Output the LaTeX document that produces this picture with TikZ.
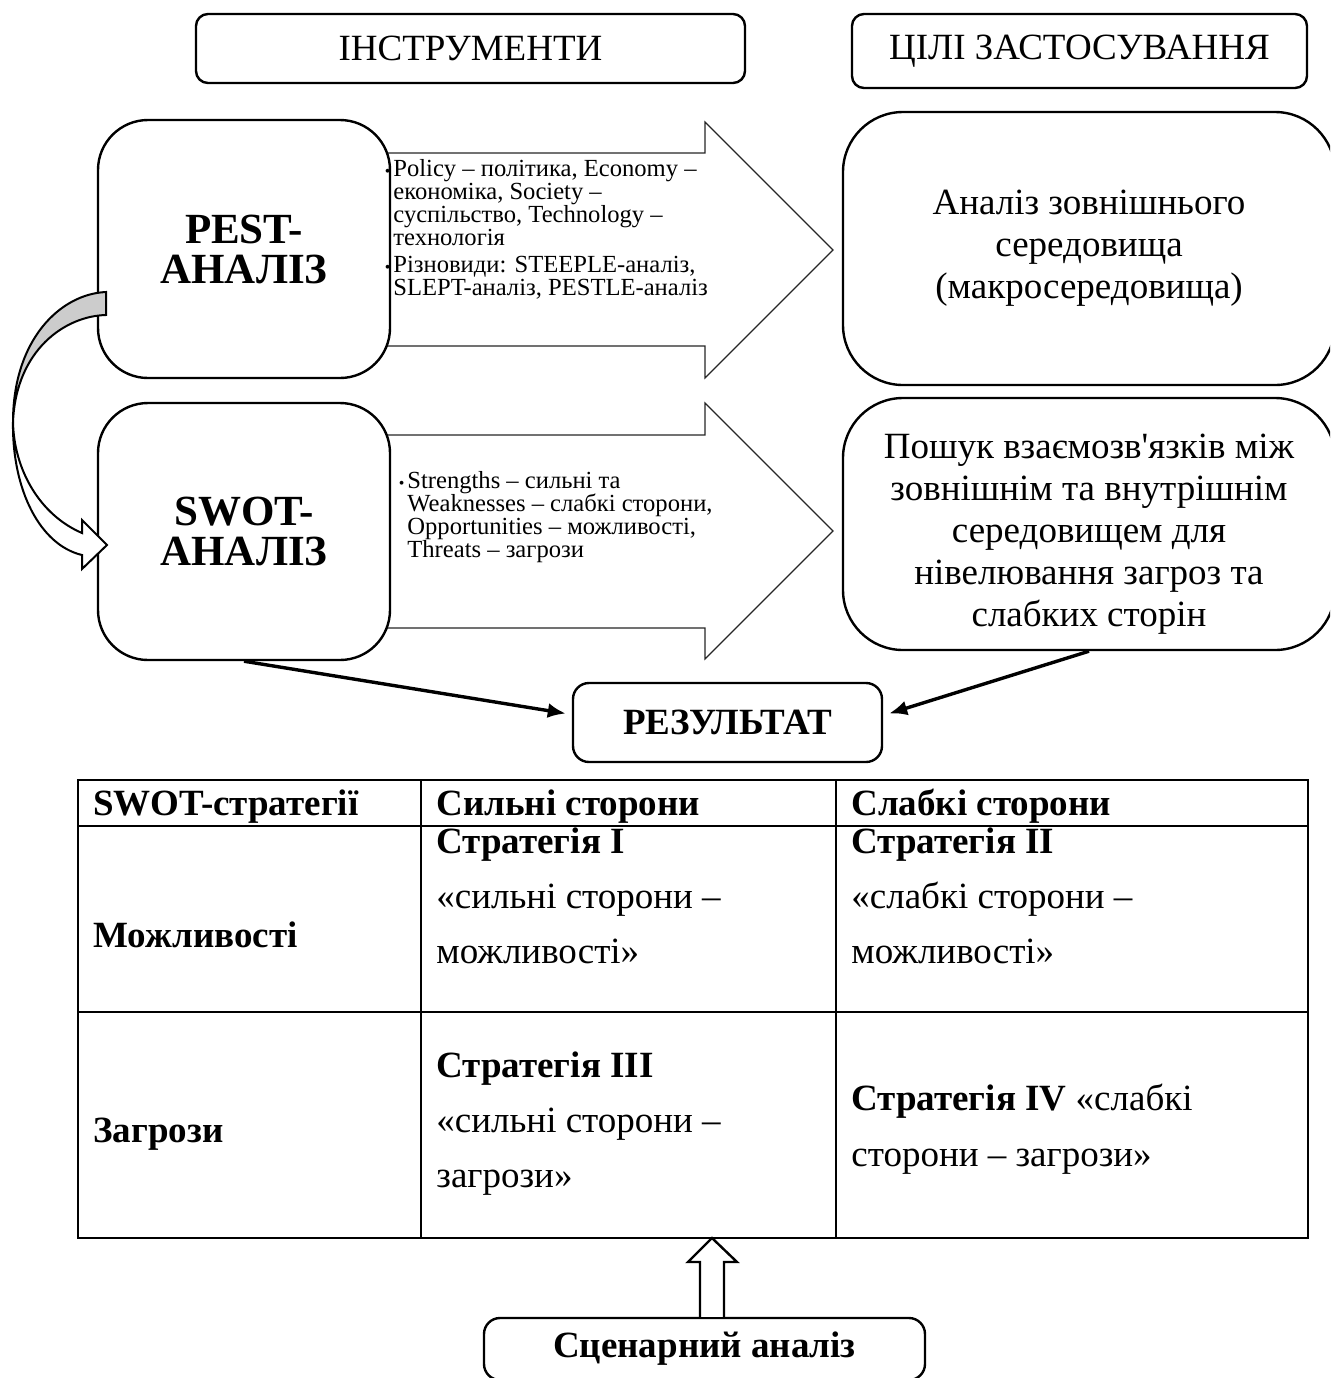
\documentclass[tikz,border=0pt]{standalone}
\usepackage{fontspec}
\setmainfont{Liberation Serif}
\usetikzlibrary{arrows.meta,calc}
\newcommand\fsMain{\fontsize{18.5}{21}\selectfont}
\newcommand\fsTab{\fontsize{18.5}{27.5}\selectfont}
\newcommand\fsBig{\fontsize{21.5}{20}\selectfont\bfseries}
\newcommand\fsSmall{\fontsize{12.3}{11.5}\selectfont}
\newcommand\bul{\llap{{\fontsize{8}{8}\selectfont\textbullet}\hspace{1.5pt}}}
\begin{document}
\begin{tikzpicture}[x=0.5pt,y=-0.5pt,
  rbox/.style={draw,line width=1.2pt,fill=white,rounded corners=#1,inner sep=0pt,align=center},
  blockarrow/.style={draw=black!85,line width=0.6pt,fill=white},
  conn/.style={line width=1.7pt,-{Latex[length=9pt,width=7.5pt]}},
  cell/.style={anchor=base west,inner sep=0pt,font=\fsTab},
  tline/.style={line width=1.2pt}]
\useasboundingbox (0,0) rectangle (1330,1378);
\begin{scope}
\clip (0,0) rectangle (1330,1378);

% header boxes
\node[rbox=6pt,minimum width=274.5pt,minimum height=34.5pt,font=\fsMain] (instr) at (470.5,48.5) {ІНСТРУМЕНТИ};
\node[rbox=6pt,minimum width=227.5pt,minimum height=37pt,font=\fsMain] (goals) at (1079.5,51) {ЦІЛІ ЗАСТОСУВАННЯ};

% block arrows
\draw[blockarrow] (370,153) -- (705,153) -- (705,122) -- (833,250) -- (705,378) -- (705,346) -- (370,346) -- cycle;
\draw[blockarrow] (370,435) -- (705,435) -- (705,403) -- (833,531) -- (705,659) -- (705,628) -- (370,628) -- cycle;

% left boxes
\node[rbox=25pt,minimum width=146pt,minimum height=129pt,font=\fsBig] (pest) at (244,249) {PEST-\\АНАЛІЗ};
\node[rbox=25pt,minimum width=146pt,minimum height=128.5pt,font=\fsBig] (swot) at (244,531.5) {SWOT-\\АНАЛІЗ};

% arrow texts
\node[anchor=north west,inner sep=0pt,align=left,font=\fsSmall] (pesttxt) at (393,159) {%
\bul Policy – політика, Economy –\\
економіка, Society –\\
суспільство, Technology –\\
технологія\\[2pt]
\bul Різновиди: STEEPLE-аналіз,\\
SLEPT-аналіз, PESTLE-аналіз};
\node[anchor=north west,inner sep=0pt,align=left,font=\fsSmall] (swottxt) at (407,471) {%
\bul Strengths – сильні та\\
Weaknesses – слабкі сторони,\\
Opportunities – можливості,\\
Threats – загрози};

% right boxes
\node[rbox=30pt,minimum width=246pt,minimum height=136.5pt,font=\fsMain] (ana1) at (1089,248.5) {Аналіз зовнішнього\\середовища\\(макросередовища)};
\node[rbox=30pt,minimum width=246pt,minimum height=126pt] (ana2) at (1089,524) {};
\node[align=center,inner sep=0pt,font=\fsMain] (ana2t) at (1089,534) {Пошук взаємозв\textquotesingle язків між\\зовнішнім та внутрішнім\\середовищем для\\нівелювання загроз та\\слабких сторін};

% curved arrow PEST -> SWOT
\draw[line width=1pt,fill=black!20] (106,292) .. controls (60,294) and (13,340) .. (13,422)
   .. controls (16,350) and (65,316) .. (106,315) -- cycle;
\draw[line width=1pt,fill=white] (13,422) .. controls (14,470) and (40,515) .. (82,533)
   -- (82,520) -- (107,545) -- (82,569) -- (82,555)
   .. controls (40,545) and (12,490) .. (13,422) -- cycle;

% result
\node[rbox=8pt,minimum width=154.5pt,minimum height=39.5pt,font=\fsMain\bfseries] (result) at (727.5,722.5) {РЕЗУЛЬТАТ};
\draw[conn] (swot.south) -- ([yshift=4.5pt,xshift=-3pt]result.west);
\draw[conn] (ana2.south) -- ([yshift=4.5pt,xshift=3pt]result.east);

% table
\coordinate (tnw) at (78,780);
\coordinate (tse) at (1308,1238);
\draw[tline] (tnw) rectangle (tse);
\draw[tline] (78,826) -- (1308,826);
\draw[tline] (78,1012) -- (1308,1012);
\draw[tline] (421,780) -- (421,1238);
\draw[tline] (836,780) -- (836,1238);

\node[cell] (h1) at (93,815) {\bfseries SWOT-стратегії};
\node[cell] (h2) at (436,815) {\bfseries Сильні сторони};
\node[cell] (h3) at (851,815) {\bfseries Слабкі сторони};

\node[cell] (r1) at (93,947) {\bfseries Можливості};
\node[cell] (c11a) at (436,853) {\bfseries Стратегія І};
\node[cell] (c11b) at (436,908) {«сильні сторони –};
\node[cell] (c11c) at (436,963) {можливості»};
\node[cell] (c12a) at (851,853) {\bfseries Стратегія ІІ};
\node[cell] (c12b) at (851,908) {«слабкі сторони –};
\node[cell] (c12c) at (851,963) {можливості»};

\node[cell] (r2) at (93,1142) {\bfseries Загрози};
\node[cell] (c21a) at (436,1077) {\bfseries Стратегія ІІІ};
\node[cell] (c21b) at (436,1132) {«сильні сторони –};
\node[cell] (c21c) at (436,1187) {загрози»};
\node[cell] (c22a) at (851,1110) {\textbf{Стратегія IV} «слабкі};
\node[cell] (c22b) at (851,1166) {сторони – загрози»};

% scenario
\node[rbox=8pt,minimum width=220.5pt,minimum height=31pt,font=\fsMain\bfseries] (scen) at (704.5,1349) {Сценарний аналіз};
\coordinate (tbot) at (712,1238);
\coordinate (sbot) at (tbot |- scen.north);
\draw[line width=1.2pt,fill=white] ($(sbot)+(-12,0)$) -- ($(tbot)+(-12,24)$) -- ($(tbot)+(-24,24)$)
  -- (tbot) -- ($(tbot)+(25,24)$) -- ($(tbot)+(12,24)$) -- ($(sbot)+(12,0)$);
\end{scope}
\end{tikzpicture}
\end{document}
